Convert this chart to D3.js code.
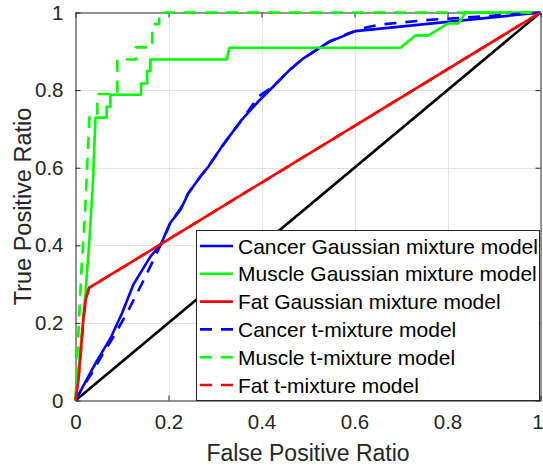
<!DOCTYPE html>
<html>
<head>
<meta charset="utf-8">
<script src="https://cdn.jsdelivr.net/npm/d3@7"></script>
<style>
  body { margin: 0; background: #fff; }
  text { font-family: "Liberation Sans", Arial, Helvetica, sans-serif; }
</style>
</head>
<body>
<div id="chart"></div>
<script>
// ROC curves, [false positive ratio, true positive ratio]
const cancerGmm = [[0,0],[0.02,0.045],[0.045,0.1],[0.075,0.16],[0.1,0.225],[0.125,0.3],[0.161,0.371],[0.183,0.401],[0.204,0.458],[0.226,0.492],[0.243,0.535],[0.269,0.578],[0.286,0.603],[0.315,0.655],[0.358,0.724],[0.391,0.768],[0.426,0.81],[0.458,0.849],[0.487,0.879],[0.52,0.905],[0.548,0.926],[0.584,0.943],[0.602,0.952],[1,1]];
const muscleGmm = [[0,0],[0.01,0.12],[0.021,0.27],[0.028,0.38],[0.037,0.55],[0.043,0.729],[0.067,0.729],[0.067,0.757],[0.075,0.757],[0.075,0.788],[0.141,0.788],[0.141,0.817],[0.154,0.817],[0.154,0.849],[0.161,0.849],[0.161,0.879],[0.325,0.879],[0.331,0.909],[0.699,0.909],[0.731,0.941],[0.759,0.941],[0.802,0.972],[0.824,0.972],[0.839,1],[1,1]];
const fatGmm = [[0,0],[0.006,0.05],[0.011,0.12],[0.017,0.21],[0.022,0.26],[0.029,0.29],[1,1]];
const cancerTmm = [[0,0],[0.016,0.035],[0.035,0.07],[0.054,0.11],[0.082,0.165],[0.111,0.226],[0.147,0.311],[0.168,0.363],[0.183,0.401],[0.204,0.458],[0.226,0.495],[0.243,0.535],[0.269,0.578],[0.286,0.603],[0.315,0.655],[0.358,0.724],[0.394,0.784],[0.426,0.81],[0.458,0.849],[0.487,0.879],[0.52,0.905],[0.548,0.926],[0.584,0.945],[0.62,0.96],[0.656,0.969],[0.75,0.98],[1,1]];
const muscleTmm = [[0,0],[0.004,0.12],[0.013,0.34],[0.02,0.47],[0.025,0.6],[0.03,0.73],[0.047,0.73],[0.047,0.79],[0.09,0.79],[0.09,0.879],[0.13,0.879],[0.13,0.91],[0.165,0.91],[0.165,0.97],[0.18,0.97],[0.18,1],[1,1]];
const fatTmm = [[0,0],[0.006,0.05],[0.011,0.12],[0.017,0.21],[0.022,0.26],[0.029,0.29],[1,1]];
const chance = [[0,0],[1,1]];

const seriesNames = ["Cancer Gaussian mixture model", "Muscle Gaussian mixture model", "Fat Gaussian mixture model",
  "Cancer t-mixture model", "Muscle t-mixture model", "Fat t-mixture model"];
const seriesData = [cancerGmm, muscleGmm, fatGmm, cancerTmm, muscleTmm, fatTmm];
const seriesColors = ["#0000ff", "#00ff00", "#ff0000", "#0000ff", "#00ff00", "#ff0000"];
const seriesDashed = [false, false, false, true, true, true];
const tickValues = [0, 0.2, 0.4, 0.6, 0.8, 1];

const width = 543, height = 467;
const plotLeft = 75.5, plotRight = 540.5, plotTop = 12.5, plotBottom = 400.5;
const axisColor = "#262626";

const svg = d3.select("#chart").append("svg")
  .attr("width", width)
  .attr("height", height);

const x = d3.scaleLinear().domain([0, 1]).range([plotLeft, plotRight]);
const y = d3.scaleLinear().domain([0, 1]).range([plotBottom, plotTop]);

// grid
const grid = svg.append("g").attr("stroke", "#e3e3e3").attr("stroke-width", 1);
grid.selectAll(".gx").data(tickValues.slice(1, -1)).enter().append("line")
  .attr("x1", d => Math.round(x(d)) + 0.5).attr("x2", d => Math.round(x(d)) + 0.5)
  .attr("y1", plotTop).attr("y2", plotBottom);
grid.selectAll(".gy").data(tickValues.slice(1, -1)).enter().append("line")
  .attr("y1", d => Math.round(y(d)) + 0.5).attr("y2", d => Math.round(y(d)) + 0.5)
  .attr("x1", plotLeft).attr("x2", plotRight);

// axes with inward ticks on all four sides
const fmt = d => d === 0 || d === 1 ? String(d) : d.toFixed(1);
const xAxis = svg.append("g").attr("transform", `translate(0,${plotBottom})`)
  .call(d3.axisBottom(x).tickValues(tickValues).tickFormat(fmt).tickSizeInner(-5).tickSizeOuter(0).tickPadding(14));
const xTop = svg.append("g").attr("transform", `translate(0,${plotTop})`)
  .call(d3.axisTop(x).tickValues(tickValues).tickFormat("").tickSizeInner(-5).tickSizeOuter(0));
const yAxis = svg.append("g").attr("transform", `translate(${plotLeft},0)`)
  .call(d3.axisLeft(y).tickValues(tickValues).tickFormat(fmt).tickSizeInner(-5).tickSizeOuter(0).tickPadding(12));
const yRight = svg.append("g").attr("transform", `translate(${plotRight},0)`)
  .call(d3.axisRight(y).tickValues(tickValues).tickFormat("").tickSizeInner(-5).tickSizeOuter(0));

[xAxis, xTop, yAxis, yRight].forEach(g => {
  g.select(".domain").attr("stroke", axisColor);
  g.selectAll(".tick line").attr("stroke", axisColor);
  g.selectAll(".tick text").attr("fill", axisColor).attr("font-size", 20.5)
    .attr("font-family", "Liberation Sans, Arial, sans-serif");
});
// the last x label sits at the window edge, nudge it inside like the original
xAxis.selectAll(".tick text").filter(d => d === 1).attr("dx", -3);

// axis labels
svg.append("text")
  .attr("x", (plotLeft + plotRight) / 2).attr("y", 461)
  .attr("text-anchor", "middle").attr("fill", axisColor).attr("font-size", 23)
  .text("False Positive Ratio");
svg.append("text")
  .attr("transform", `translate(31,${(plotTop + plotBottom) / 2}) rotate(-90)`)
  .attr("text-anchor", "middle").attr("fill", axisColor).attr("font-size", 23.5)
  .text("True Positive Ratio");

// curves
const line = d3.line().x(d => x(d[0])).y(d => y(d[1]));
const curves = svg.append("g").attr("fill", "none").attr("stroke-width", 2.6)
  .attr("stroke-linejoin", "round");

curves.append("path").datum(chance)
  .attr("d", line).attr("stroke", "#000");

seriesData.forEach((data, i) => {
  curves.append("path").datum(data)
    .attr("d", line)
    .attr("stroke", seriesColors[i])
    .attr("stroke-dasharray", seriesDashed[i] ? "12,9" : null);
});

// legend
const legend = svg.append("g");
legend.append("rect")
  .attr("x", 196.5).attr("y", 230.5).attr("width", 343).attr("height", 170)
  .attr("fill", "#fff").attr("stroke", axisColor).attr("stroke-width", 1);

const rowY = d3.scaleLinear().domain([0, 5]).range([246, 385]);
const items = legend.selectAll(".item").data(seriesNames).enter().append("g")
  .attr("transform", (d, i) => `translate(0,${rowY(i)})`);
items.append("line")
  .attr("x1", 200).attr("x2", 233).attr("y1", 0).attr("y2", 0)
  .attr("stroke", (d, i) => seriesColors[i])
  .attr("stroke-width", 2.6)
  .attr("stroke-dasharray", (d, i) => seriesDashed[i] ? "12,9" : null);
items.append("text")
  .attr("x", 238).attr("y", 0).attr("dy", "0.36em")
  .attr("font-size", 21).attr("fill", "#000")
  .text(d => d);
</script>
</body>
</html>
